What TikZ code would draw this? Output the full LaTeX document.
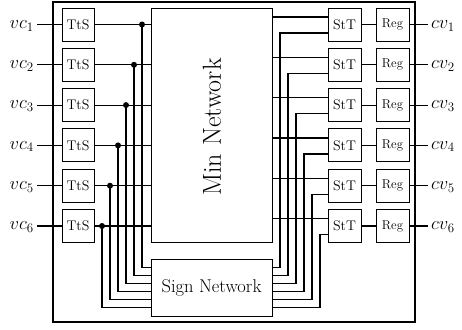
\RequirePackage{fix-cm}
\documentclass[tikz,border=0pt]{standalone}
\begin{document}
\begin{tikzpicture}[x=1pt,y=-1pt,
  wire/.style={line width=1.2pt},
  blk/.style={draw, line width=0.9pt, inner sep=0pt, minimum width=32pt, minimum height=33pt, font=\fontsize{14}{16}\selectfont},
  regbox/.style={blk, font=\fontsize{12.8}{14}\selectfont},
  lab/.style={inner xsep=3pt, inner ysep=0pt, font=\fontsize{18.5}{20}\selectfont},
  dot/.style={circle, fill, inner sep=0pt, minimum size=6pt}]
\useasboundingbox (0,0) rectangle (462,329);
\node[draw, line width=2.4pt, inner sep=0pt, minimum width=362pt, minimum height=320pt] (frame) at (234,162) {};
\node[draw, line width=0.9pt, inner sep=0pt, minimum width=121pt, minimum height=234pt] (min) at (211.5,125) {};
\node[rotate=90, font=\fontsize{26}{28}\selectfont] (mintext) at (212,127) {Min Network};
\node[draw, line width=0.9pt, inner sep=0pt, minimum width=121pt, minimum height=57pt, font=\fontsize{18.5}{20}\selectfont] (sign) at (211.5,287.5) {Sign Network};
\foreach \i in {1,...,6} {
  \pgfmathsetmacro\yc{24.5+40.3*(\i-1)}
  \pgfmathsetmacro\yl{\yc+3.8}
  \pgfmathsetmacro\yu{\yc-7.5}
  \pgfmathsetmacro\yd{\yc+8.5}
  \pgfmathsetmacro\lv{267.5+8*(\i-1)}
  \pgfmathsetmacro\xj{142-8*(\i-1)}
  \pgfmathsetmacro\xk{280+8*(\i-1)}
  \node[blk] (tts\i) at (78,\yc) {TtS};
  \node[blk, minimum width=33pt] (stt\i) at (344.5,\yc) {StT};
  \node[regbox, minimum width=33pt] (reg\i) at (392.5,\yc) {Reg};
  \node[lab, anchor=base east] (vc\i) at (37,\yl) {$vc_{\i}$};
  \node[lab, anchor=base west] (cv\i) at (428,\yl) {$cv_{\i}$};
  \coordinate (j\i) at (\xj,\yc);
  \coordinate (lv\i) at (0,\lv);
  \coordinate (su\i) at (328,\yu);
  \coordinate (sd\i) at (328,\yd);
  \coordinate (kx\i) at (\xk,0);
  \draw[wire] (vc\i.east |- tts\i.west) -- (tts\i.west);
  \draw[wire] (tts\i.east) -- (min.west |- tts\i.east);
  \draw[wire] (j\i) |- (sign.west |- lv\i);
  \draw[wire] (min.east |- su\i) -- (su\i);
  \draw[wire] (sign.east |- lv\i) -| (kx\i |- sd\i) -- (sd\i);
  \draw[wire] (stt\i.east) -- (reg\i.west);
  \draw[wire] (reg\i.east) -- (cv\i.west |- reg\i.east);
  \node[dot] at (j\i) {};
}
\end{tikzpicture}
\end{document}
